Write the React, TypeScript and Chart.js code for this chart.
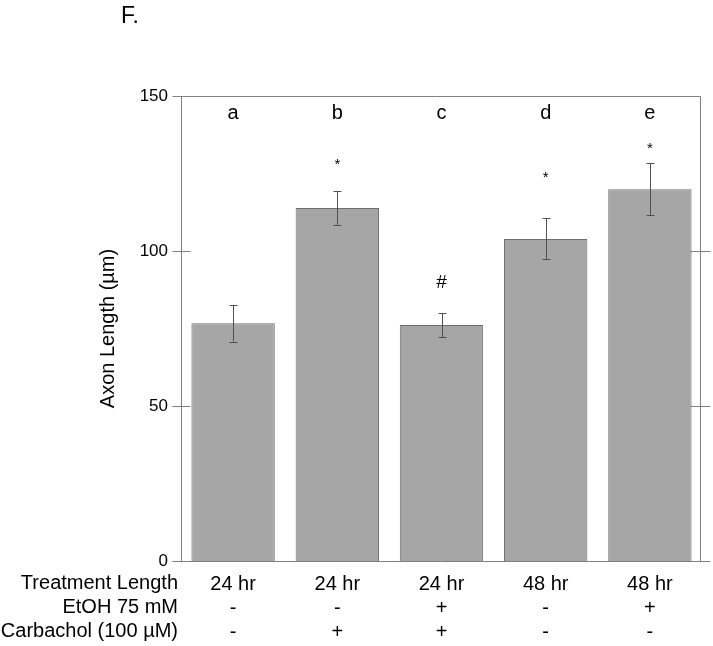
import { useEffect, useRef } from "react";
import { Chart, registerables } from "chart.js";

Chart.register(...registerables);

const categories = ["24 hr", "24 hr", "24 hr", "48 hr", "48 hr"];
const etohRow = ["-", "-", "+", "-", "+"];
const carbacholRow = ["-", "+", "+", "-", "-"];
const rowLabels = ["Treatment Length", "EtOH 75 mM", "Carbachol (100 µM)"];
const axonLength = [76.7, 113.9, 76.1, 103.9, 119.9];
const axonError = [5.9, 5.5, 3.9, 6.6, 8.4];
const groupLetters = ["a", "b", "c", "d", "e"];
const sigMarks = ["", "*", "#", "*", "*"];
const sigLevels = [0, 128.7, 89.8, 124.5, 134];
const letterLevel = 144.5;
const yTicks = [0, 50, 100, 150];
const panelLabel = "F.";
const yTitle = "Axon Length (µm)";

const FONT = "'Liberation Sans', Arial, Helvetica, sans-serif";
const AXIS_COLOR = "#808080";

const overlayPlugin = {
  id: "overlay",
  afterDatasetsDraw(chart: any) {
    const ctx = chart.ctx;
    const x = chart.scales.x;
    const y = chart.scales.y;
    ctx.save();
    // error bars
    ctx.strokeStyle = "#505050";
    ctx.lineWidth = 1;
    axonLength.forEach((v, i) => {
      const cx = Math.round(x.getPixelForValue(i)) + 0.5;
      const yt = y.getPixelForValue(v + axonError[i]);
      const yb = y.getPixelForValue(v - axonError[i]);
      ctx.beginPath();
      ctx.moveTo(cx, yt);
      ctx.lineTo(cx, yb);
      ctx.moveTo(cx - 4, Math.round(yt) + 0.5);
      ctx.lineTo(cx + 4, Math.round(yt) + 0.5);
      ctx.moveTo(cx - 4, Math.round(yb) + 0.5);
      ctx.lineTo(cx + 4, Math.round(yb) + 0.5);
      ctx.stroke();
    });
    // letters
    ctx.fillStyle = "#000";
    ctx.textAlign = "center";
    ctx.textBaseline = "middle";
    ctx.font = `20px ${FONT}`;
    groupLetters.forEach((l, i) => {
      ctx.fillText(l, x.getPixelForValue(i), y.getPixelForValue(letterLevel));
    });
    // significance marks
    sigMarks.forEach((m, i) => {
      if (!m) return;
      if (m === "*") {
        ctx.font = `15px ${FONT}`;
        ctx.fillText(m, x.getPixelForValue(i), y.getPixelForValue(sigLevels[i]) + 3);
      } else {
        ctx.font = `19px ${FONT}`;
        ctx.fillText(m, x.getPixelForValue(i), y.getPixelForValue(sigLevels[i]));
      }
    });
    ctx.restore();
  },
  afterDraw(chart: any) {
    const ctx = chart.ctx;
    const x = chart.scales.x;
    const y = chart.scales.y;
    const { left, right, top, bottom } = chart.chartArea;
    const L = Math.round(left) + 0.5;
    const R = Math.round(right) - 1.5;
    const T = Math.round(top) + 0.5;
    const B = Math.round(bottom) + 0.5;
    ctx.save();
    ctx.strokeStyle = AXIS_COLOR;
    ctx.lineWidth = 1;
    ctx.beginPath();
    // left axis & right axis
    ctx.moveTo(L, T);
    ctx.lineTo(L, B);
    ctx.moveTo(R, T);
    ctx.lineTo(R, B);
    // top line
    ctx.moveTo(L - 9, T);
    ctx.lineTo(R, T);
    // bottom line
    ctx.moveTo(L - 9, B);
    ctx.lineTo(R + 10, B);
    // ticks
    yTicks.forEach((t) => {
      if (t === 0 || t === 150) return;
      const py = Math.round(y.getPixelForValue(t)) + 0.5;
      ctx.moveTo(L - 9, py);
      ctx.lineTo(L + 9, py);
      ctx.moveTo(R - 10, py);
      ctx.lineTo(R + 10, py);
    });
    ctx.stroke();

    // row labels
    ctx.fillStyle = "#000";
    ctx.textAlign = "right";
    ctx.textBaseline = "middle";
    ctx.font = `20px ${FONT}`;
    const lh = 24;
    rowLabels.forEach((r, i) => {
      ctx.fillText(r, 178, x.top + 10 + lh * (i + 0.5));
    });

    // panel label
    ctx.textAlign = "left";
    ctx.textBaseline = "alphabetic";
    ctx.font = `23px ${FONT}`;
    ctx.fillText(panelLabel, 121, 23);
    ctx.restore();
  },
};

export default function App() {
  const ref = useRef<HTMLCanvasElement>(null);
  useEffect(() => {
    document.body.style.margin = "0";
    const canvas = ref.current;
    if (!canvas) return;
    const labels = categories.map((c, i) => [c, etohRow[i], carbacholRow[i]]);
    const chart = new Chart(canvas, {
      type: "bar",
      data: {
        labels,
        datasets: [
          {
            data: axonLength,
            backgroundColor: "#a6a6a6",
            borderColor: "#6e6e6e",
            borderWidth: 1,
            categoryPercentage: 1,
            barPercentage: 0.8,
          },
        ],
      },
      options: {
        responsive: false,
        animation: false,
        devicePixelRatio: 1,
        layout: { padding: { left: 0, right: 11, top: 96, bottom: 0 } },
        plugins: {
          legend: { display: false },
          tooltip: { enabled: false },
        },
        scales: {
          x: {
            grid: { display: false },
            border: { display: false },
            ticks: {
              color: "#000",
              padding: 3,
              maxRotation: 0,
              autoSkip: false,
              font: { family: FONT, size: 20, lineHeight: "24px" },
            },
            afterFit(scale: any) {
              scale.height = 85;
            },
          },
          y: {
            min: 0,
            max: 150,
            grid: { display: false },
            border: { display: false },
            ticks: {
              color: "#000",
              padding: 5,
              stepSize: 50,
              font: { family: FONT, size: 17 },
            },
            afterBuildTicks(scale: any) {
              scale.ticks = yTicks.map((v) => ({ value: v }));
            },
            title: {
              display: true,
              text: yTitle,
              color: "#000",
              font: { family: FONT, size: 20, lineHeight: 1.2 },
              padding: { top: 96, bottom: 0 },
            },
            afterFit(scale: any) {
              scale.width = 181;
            },
          },
        },
      },
      plugins: [overlayPlugin],
    });
    return () => chart.destroy();
  }, []);
  return <canvas ref={ref} width={713} height={646} style={{ display: "block" }} />;
}
